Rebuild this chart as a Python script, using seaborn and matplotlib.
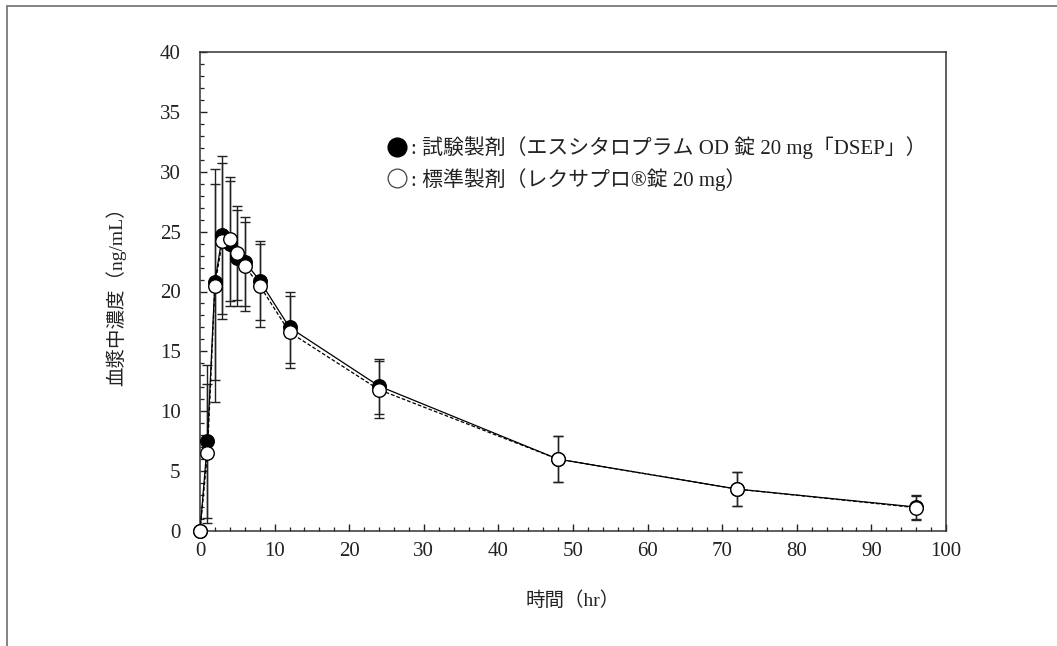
import matplotlib
matplotlib.use("Agg")
import matplotlib.pyplot as plt
from matplotlib.lines import Line2D
from matplotlib.ticker import MultipleLocator
import numpy as np
import pandas as pd
import seaborn as sns

# ---- data ----
time_hr = [0, 1, 2, 3, 4, 5, 6, 8, 12, 24, 48, 72, 96]
test_mean = [0, 7.5, 20.8, 24.7, 24.0, 22.8, 22.5, 20.9, 17.0, 12.1, 6.0, 3.5, 2.0]
test_sd = [0, 6.4, 8.2, 6.6, 5.2, 4.0, 3.7, 3.3, 3.0, 2.3, 1.9, 1.4, 1.0]
ref_mean = [0, 6.5, 20.5, 24.2, 24.4, 23.2, 22.1, 20.5, 16.6, 11.8, 6.0, 3.5, 1.95]
ref_sd = [0, 5.8, 9.7, 6.5, 5.2, 3.9, 3.7, 3.5, 3.0, 2.4, 1.9, 1.45, 1.0]

x_ticks = [0, 10, 20, 30, 40, 50, 60, 70, 80, 90, 100]
y_ticks = [0, 5, 10, 15, 20, 25, 30, 35, 40]

label_test = ": 試験製剤（エスシタロプラム OD 錠 20 mg「DSEP」）"
label_ref = ": 標準製剤（レクサプロ®錠 20 mg）"
x_label = "時間（hr）"
y_label = "血漿中濃度（ng/mL）"

df = pd.DataFrame({
    "time": time_hr * 2,
    "conc": test_mean + ref_mean,
    "group": ["test"] * len(time_hr) + ["ref"] * len(time_hr),
})

sns.set_style("ticks")
FONT = ["Liberation Serif", "Noto Sans CJK JP", "DejaVu Sans"]
plt.rcParams["font.family"] = FONT
plt.rcParams["axes.unicode_minus"] = False

fig = plt.figure(figsize=(10.57, 6.46), dpi=100)
ax = fig.add_axes([200 / 1057, 1 - 531 / 646, (946 - 200) / 1057, (531 - 52) / 646])

# error bars
ax.errorbar(time_hr, test_mean, yerr=test_sd, fmt="none", ecolor="#222222",
            elinewidth=1.0, capsize=3.3, capthick=1.0, zorder=2)
ax.errorbar(time_hr, ref_mean, yerr=ref_sd, fmt="none", ecolor="#222222",
            elinewidth=1.0, capsize=3.3, capthick=1.0, zorder=2)

# lines
sns.lineplot(data=df, x="time", y="conc", style="group",
             dashes={"test": "", "ref": (3, 1.6)}, color="black",
             linewidth=0.9, legend=False, ax=ax, zorder=3, sort=False)

# markers
sns.scatterplot(data=df[df.group == "test"], x="time", y="conc", s=95,
                color="black", edgecolor="black", linewidth=1.0, ax=ax,
                zorder=4, legend=False, clip_on=False)
sns.scatterplot(data=df[df.group == "ref"], x="time", y="conc", s=95,
                color="white", edgecolor="black", linewidth=1.0, ax=ax,
                zorder=5, legend=False, clip_on=False)

ax.set_xlim(0, 100)
ax.set_ylim(0, 40)
ax.set_xticks(x_ticks)
ax.set_yticks(y_ticks)
ax.xaxis.set_minor_locator(MultipleLocator(2))
ax.yaxis.set_minor_locator(MultipleLocator(1))
ax.tick_params(axis="both", which="both", direction="in", top=False, right=False,
               colors="#222222")
ax.tick_params(axis="both", which="major", length=5, width=1.0, labelsize=15)
ax.tick_params(axis="both", which="minor", length=3, width=0.9)
ax.tick_params(axis="y", which="major", pad=14)
ax.tick_params(axis="x", which="major", pad=8)
for lab in ax.get_xticklabels() + ax.get_yticklabels():
    lab.set_color("#222222")
for s in ax.spines.values():
    s.set_visible(True)
    s.set_linewidth(1.1)
    s.set_color("#333333")

ax.set_xlabel(x_label, fontsize=14, labelpad=22, color="#222222")
ax.set_ylabel(y_label, fontsize=14, labelpad=24, color="#222222")

handles = [
    Line2D([], [], linestyle="none", marker="o", markersize=13.5,
           markerfacecolor="black", markeredgecolor="black"),
    Line2D([], [], linestyle="none", marker="o", markersize=13.5,
           markerfacecolor="white", markeredgecolor="#444444", markeredgewidth=0.9),
]
fig.legend(handles, [label_test, label_ref], loc="upper left",
           bbox_to_anchor=(372 / 1057, 1 - 122 / 646), frameon=False,
           prop={"family": FONT, "size": 15}, handlelength=1.0,
           handletextpad=0.15, labelspacing=0.4, borderpad=0.2,
           labelcolor="#222222")

# outer frame lines (cropped border of the original figure)
fig.add_artist(Line2D([7 / 1057, 7 / 1057], [0, 1 - 5.5 / 646],
                      transform=fig.transFigure, color="#7a7a7a", lw=1.3))
fig.add_artist(Line2D([7 / 1057, 1], [1 - 5.5 / 646, 1 - 5.5 / 646],
                      transform=fig.transFigure, color="#7a7a7a", lw=1.3))

fig.savefig("out.png", dpi=100)
